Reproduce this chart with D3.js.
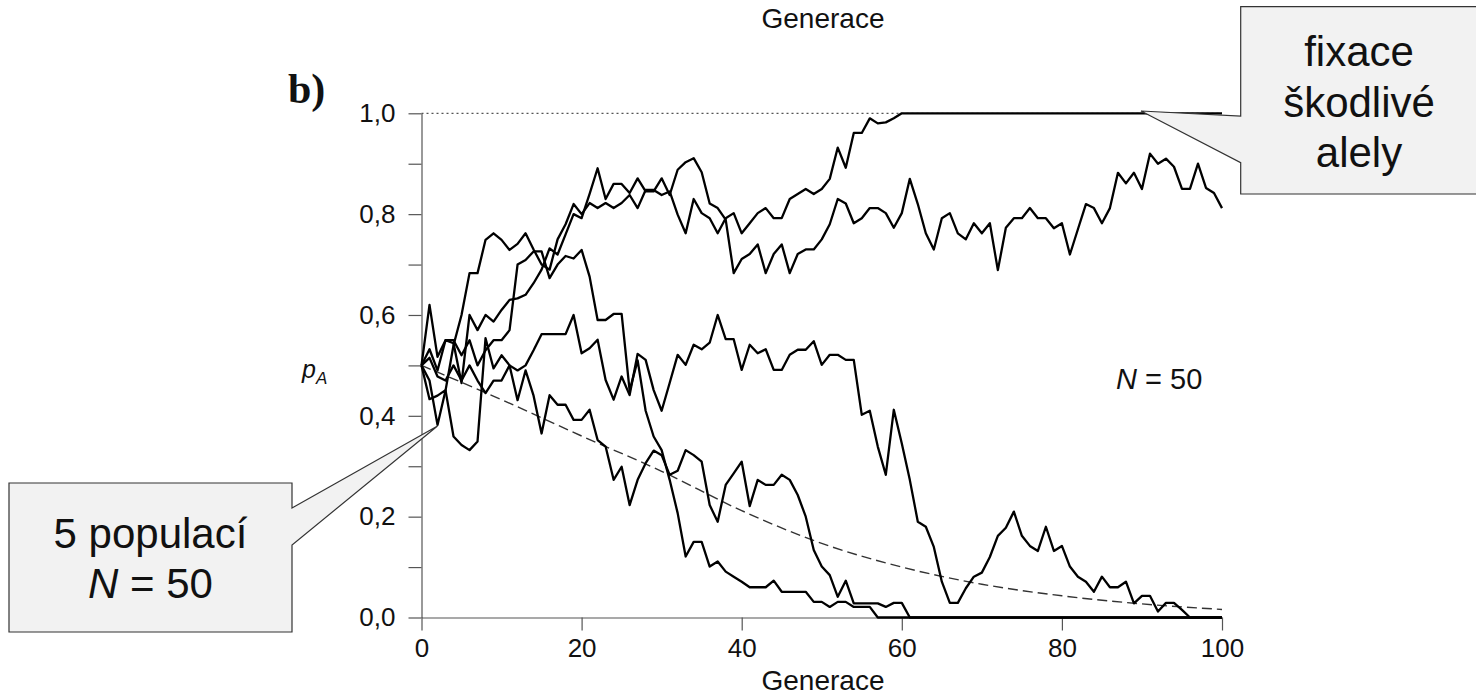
<!DOCTYPE html>
<html>
<head>
<meta charset="utf-8">
<script src="https://cdn.jsdelivr.net/npm/d3@7"></script>
<style>
  body { margin: 0; background: #fff; }
  svg text { font-family: "Liberation Sans", Arial, sans-serif; fill: #111; }
  .axis path, .axis line { stroke: #555; stroke-width: 1.2; }
</style>
</head>
<body>
<svg id="chart" width="1476" height="697"></svg>
<script>
// generations 0..100
const generations = d3.range(0, 101);

// five populations, allele frequency of A per generation
const popFixed = [
  0.5, 0.47, 0.382, 0.45, 0.54, 0.60, 0.683, 0.683, 0.749, 0.762, 0.749, 0.729, 0.741, 0.762, 0.73, 0.70, 0.69, 0.75, 0.78, 0.82, 0.80,
  0.822, 0.812, 0.822, 0.812, 0.822, 0.838, 0.812, 0.848, 0.848, 0.838, 0.845, 0.799, 0.762, 0.830, 0.802, 0.792, 0.762, 0.792, 0.802, 0.762,
  0.782, 0.802, 0.812, 0.792, 0.792, 0.830, 0.840, 0.850, 0.840, 0.850, 0.870, 0.932, 0.892, 0.961, 0.961, 0.990, 0.980, 0.982, 0.99, 1,
  1, 1, 1, 1, 1, 1, 1, 1, 1, 1, 1, 1, 1, 1, 1, 1, 1, 1, 1, 1,
  1, 1, 1, 1, 1, 1, 1, 1, 1, 1, 1, 1, 1, 1, 1, 1, 1, 1, 1, 1
];
const popHigh = [
  0.5, 0.62, 0.517, 0.55, 0.544, 0.465, 0.60, 0.57, 0.60, 0.587, 0.61, 0.63, 0.633, 0.64, 0.663, 0.69, 0.732, 0.72, 0.76, 0.80, 0.792,
  0.84, 0.891, 0.83, 0.86, 0.86, 0.842, 0.871, 0.845, 0.845, 0.871, 0.838, 0.888, 0.903, 0.911, 0.883, 0.821, 0.812, 0.789, 0.683, 0.711,
  0.721, 0.74, 0.683, 0.721, 0.74, 0.683, 0.721, 0.73, 0.73, 0.75, 0.78, 0.83, 0.821, 0.782, 0.792, 0.812, 0.812, 0.802, 0.773, 0.802,
  0.87, 0.82, 0.762, 0.73, 0.792, 0.802, 0.762, 0.75, 0.782, 0.762, 0.782, 0.689, 0.773, 0.792, 0.792, 0.812, 0.792, 0.792, 0.772, 0.782,
  0.72, 0.77, 0.82, 0.812, 0.782, 0.812, 0.882, 0.861, 0.882, 0.85, 0.92, 0.90, 0.91, 0.894, 0.85, 0.85, 0.90, 0.852, 0.842, 0.812
];
const popEarlyLoss = [
  0.5, 0.532, 0.49, 0.55, 0.55, 0.52, 0.55, 0.50, 0.53, 0.55, 0.55, 0.57, 0.70, 0.709, 0.726, 0.726, 0.673, 0.70, 0.717, 0.712, 0.729,
  0.676, 0.59, 0.59, 0.602, 0.602, 0.45, 0.51, 0.41, 0.359, 0.332, 0.273, 0.207, 0.121, 0.15, 0.15, 0.101, 0.111, 0.091, 0.081, 0.071,
  0.06, 0.06, 0.06, 0.073, 0.051, 0.051, 0.051, 0.051, 0.031, 0.031, 0.021, 0.031, 0.031, 0.021, 0.021, 0.021, 0, 0, 0, 0,
  0, 0, 0, 0, 0, 0, 0, 0, 0, 0, 0, 0, 0, 0, 0, 0, 0, 0, 0, 0,
  0, 0, 0, 0, 0, 0, 0, 0, 0, 0, 0, 0, 0, 0, 0, 0, 0, 0, 0, 0
];
const popLateLoss = [
  0.5, 0.515, 0.478, 0.47, 0.5, 0.47, 0.5, 0.47, 0.445, 0.47, 0.47, 0.50, 0.49, 0.50, 0.53, 0.562, 0.562, 0.562, 0.562, 0.60, 0.524,
  0.534, 0.551, 0.471, 0.432, 0.478, 0.441, 0.523, 0.511, 0.451, 0.41, 0.465, 0.521, 0.501, 0.541, 0.532, 0.545, 0.60, 0.552, 0.552, 0.491,
  0.541, 0.524, 0.532, 0.491, 0.491, 0.521, 0.531, 0.531, 0.548, 0.501, 0.521, 0.521, 0.511, 0.511, 0.402, 0.41, 0.339, 0.283, 0.412, 0.345,
  0.273, 0.19, 0.18, 0.14, 0.071, 0.029, 0.029, 0.058, 0.081, 0.089, 0.12, 0.162, 0.178, 0.21, 0.162, 0.142, 0.132, 0.18, 0.132, 0.142,
  0.101, 0.081, 0.071, 0.051, 0.081, 0.06, 0.06, 0.071, 0.028, 0.043, 0.043, 0.012, 0.029, 0.029, 0.015, 0, 0, 0, 0, 0
];
const popLow = [
  0.5, 0.433, 0.44, 0.451, 0.359, 0.342, 0.332, 0.349, 0.554, 0.494, 0.52, 0.50, 0.431, 0.49, 0.44, 0.365, 0.441, 0.422, 0.422, 0.392, 0.392,
  0.412, 0.352, 0.339, 0.273, 0.299, 0.223, 0.273, 0.306, 0.331, 0.322, 0.283, 0.291, 0.332, 0.322, 0.309, 0.223, 0.19, 0.263, 0.286, 0.309,
  0.221, 0.273, 0.263, 0.263, 0.283, 0.273, 0.243, 0.2, 0.134, 0.101, 0.084, 0.041, 0.073, 0.028, 0.028, 0.028, 0.028, 0.021, 0.029, 0.029,
  0, 0, 0, 0, 0, 0, 0, 0, 0, 0, 0, 0, 0, 0, 0, 0, 0, 0, 0, 0,
  0, 0, 0, 0, 0, 0, 0, 0, 0, 0, 0, 0, 0, 0, 0, 0, 0, 0, 0, 0
];

// expected (deterministic) frequency, read every 10 generations
const expectedGens = [0, 10, 20, 30, 40, 50, 60, 70, 80, 90, 100];
const expectedVals = [0.5, 0.432, 0.36, 0.29, 0.212, 0.147, 0.10, 0.066, 0.043, 0.027, 0.016];

const xTicks = [0, 20, 40, 60, 80, 100];
const yTicks = [0, 0.1, 0.2, 0.3, 0.4, 0.5, 0.6, 0.7, 0.8, 0.9, 1.0];
const yTickLabels = { 0: '0,0', 0.2: '0,2', 0.4: '0,4', 0.6: '0,6', 0.8: '0,8', 1: '1,0' };

const svg = d3.select('#chart');

const x = d3.scaleLinear().domain([0, 100]).range([421.5, 1222]);
const y = d3.scaleLinear().domain([0, 1]).range([617.5, 113.3]);

// y axis
svg.append('g')
  .attr('class', 'axis')
  .attr('transform', `translate(${x(0)},0)`)
  .call(d3.axisLeft(y).tickValues(yTicks).tickSize(13).tickSizeOuter(0).tickPadding(13)
    .tickFormat(d => yTickLabels[Math.round(d * 10) / 10] || ''))
  .call(g => g.selectAll('text').attr('font-size', 26).attr('fill', '#111')
    .style('font-family', '"Liberation Sans", Arial, sans-serif'));

// x axis
svg.append('g')
  .attr('class', 'axis')
  .attr('transform', `translate(0,${y(0)})`)
  .call(d3.axisBottom(x).tickValues(xTicks).tickSize(13).tickSizeOuter(0).tickPadding(8))
  .call(g => g.selectAll('text').attr('font-size', 26).attr('fill', '#111')
    .style('font-family', '"Liberation Sans", Arial, sans-serif'));

// dotted line at fixation level
svg.append('line')
  .attr('x1', x(0)).attr('x2', x(100))
  .attr('y1', y(1)).attr('y2', y(1))
  .attr('stroke', '#555').attr('stroke-width', 1.3)
  .attr('stroke-dasharray', '2,3');

// expected curve
svg.append('path')
  .datum(expectedGens.map((g, i) => [g, expectedVals[i]]))
  .attr('fill', 'none')
  .attr('stroke', '#333')
  .attr('stroke-width', 1.4)
  .attr('stroke-dasharray', '10,5')
  .attr('d', d3.line().x(d => x(d[0])).y(d => y(d[1])).curve(d3.curveMonotoneX));

// populations
const line = d3.line().x((d, i) => x(generations[i])).y(d => y(d));
[popLow, popLateLoss, popEarlyLoss, popHigh, popFixed].forEach(series => {
  svg.append('path')
    .datum(series)
    .attr('fill', 'none')
    .attr('stroke', '#000')
    .attr('stroke-width', 2.3)
    .attr('stroke-linejoin', 'round')
    .attr('d', line);
});

// labels
svg.append('text')
  .attr('x', 823).attr('y', 690)
  .attr('text-anchor', 'middle').attr('font-size', 28)
  .text('Generace');

svg.append('text')
  .attr('x', 823).attr('y', 28)
  .attr('text-anchor', 'middle').attr('font-size', 28)
  .text('Generace');

svg.append('text')
  .attr('x', 288).attr('y', 103)
  .attr('font-size', 42).attr('font-weight', 'bold')
  .style('font-family', '"Liberation Serif", "Times New Roman", serif')
  .text('b)');

const pLabel = svg.append('text')
  .attr('x', 302).attr('y', 378)
  .attr('font-size', 25).attr('font-style', 'italic');
pLabel.append('tspan').text('p');
pLabel.append('tspan').attr('font-size', 17).attr('dy', 6).text('A');

const nLabel = svg.append('text')
  .attr('x', 1116).attr('y', 389)
  .attr('font-size', 29);
nLabel.append('tspan').attr('font-style', 'italic').text('N');
nLabel.append('tspan').text(' = 50');

// callouts
const calloutFill = '#f2f2f2';
const calloutStroke = '#333';

svg.append('path')
  .attr('d', 'M9,483 H292 V508 L437.5,426 L292,545 V632 H9 Z')
  .attr('fill', calloutFill).attr('stroke', calloutStroke).attr('stroke-width', 1.2);

svg.append('text')
  .attr('x', 150.5).attr('y', 548)
  .attr('text-anchor', 'middle').attr('font-size', 42)
  .text('5 populací');

const leftN = svg.append('text')
  .attr('x', 150.5).attr('y', 598)
  .attr('text-anchor', 'middle').attr('font-size', 42);
leftN.append('tspan').attr('font-style', 'italic').text('N');
leftN.append('tspan').text(' = 50');

svg.append('path')
  .attr('d', 'M1240.7,6.7 H1480 V194 H1240.7 V162.7 L1141,111 L1240.7,116 Z')
  .attr('fill', calloutFill).attr('stroke', calloutStroke).attr('stroke-width', 1.2);

const rightLines = ['fixace', 'škodlivé', 'alely'];
rightLines.forEach((t, i) => {
  svg.append('text')
    .attr('x', 1359).attr('y', 66 + i * 50.5)
    .attr('text-anchor', 'middle').attr('font-size', 42)
    .text(t);
});
</script>
</body>
</html>
